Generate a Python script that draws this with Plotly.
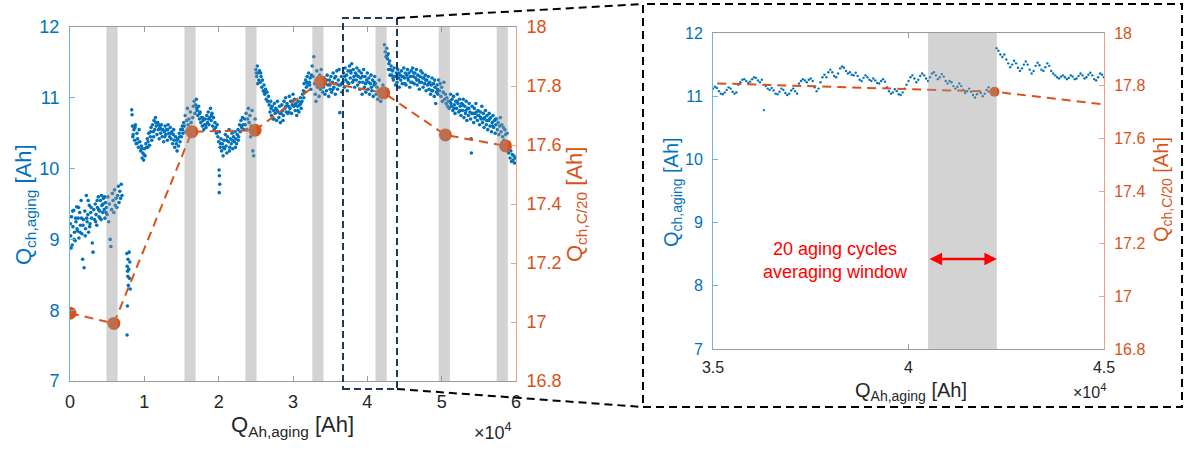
import plotly.graph_objects as go

# ---------------- data (x in units of 1e4 Ah) ----------------
segA_x = [0.01,0.02,0.03,0.04,0.05,0.06,0.07,0.08,0.09,0.10,
          0.11,0.12,0.13,0.14,0.15,0.16,0.17,0.18,0.19,0.20,
          0.21,0.22,0.23,0.24,0.25,0.26,0.27,0.28,0.29,0.30,
          0.31,0.32,0.33,0.34,0.35,0.36,0.37,0.38,0.39,0.40,
          0.41,0.42,0.43,0.44,0.45,0.46,0.47,0.48,0.49,0.50,
          0.51,0.52,0.53,0.54,0.55,0.56,0.57,0.58,0.59,0.60,
          0.61,0.62,0.63,0.64,0.65,0.66,0.67,0.68,0.69,0.70,
          0.005,0.015,0.035,0.055,0.075,0.095,0.115,0.135,0.155,0.175,
          0.205,0.225,0.245,0.265,0.285,0.345,0.365,0.385,0.405,0.425,
          0.445,0.465,0.485]
segA_y = [9.05,9.32,8.92,9.18,9.41,9.10,8.98,9.25,9.46,9.12,
          9.30,9.02,9.38,9.20,9.55,9.08,8.72,9.28,8.60,9.40,
          9.15,9.62,9.25,9.35,9.10,9.48,9.22,9.38,9.30,8.95,
          8.82,9.42,9.28,9.50,9.35,9.20,9.45,9.60,9.32,9.40,
          9.55,9.28,9.48,9.38,9.58,9.42,9.30,9.52,9.45,9.35,
          9.60,9.25,9.50,9.00,8.90,9.42,9.65,9.55,9.38,9.70,
          9.48,9.58,9.45,9.62,9.75,9.52,9.68,9.58,9.78,9.62,
          9.22,8.88,9.40,9.00,9.30,9.15,9.45,9.10,9.30,9.20,
          9.05,9.30,9.55,9.18,9.45,9.25,9.55,9.42,9.30,9.62,
          9.50,9.60,9.38]

segB_x = [0.765,0.770,0.775,0.778,0.780,0.785,0.790,0.795,0.800,0.805,0.810,0.772,0.768]
segB_y = [8.80,8.62,8.55,8.48,8.72,8.35,8.58,8.82,8.45,8.68,8.30,8.06,7.65]

segC_x = [0.83,0.84,0.85,0.86,0.87,0.88,0.89,0.90,0.91,0.92,
          0.93,0.94,0.95,0.96,0.97,0.98,0.99,1.00,1.01,1.02,
          1.03,1.04,1.05,1.06,1.07,1.08,1.09,1.10,1.11,1.12,
          1.13,1.14,1.15,1.16,1.17,1.18,1.19,1.20,1.21,1.22,
          1.23,1.24,1.25,1.26,1.27,1.28,1.29,1.30,1.31,1.32,
          1.33,1.34,1.35,1.36,1.37,1.38,1.39,1.40,1.41,1.42,
          1.43,1.44,1.45,1.46,1.47,1.48,1.49,1.50,1.51,1.52,
          1.53,
          0.835,0.845,0.875,0.905,0.965,0.995,1.045,1.085,1.125,1.155,
          1.195,1.235,1.275,1.315,1.355,1.395,1.435,1.475,1.515,
          1.54,1.55,1.56,1.57,1.58,1.59,1.60,1.61,1.62,1.63,
          1.64,1.65,1.66,1.67,1.68]
segC_y = [10.83,10.60,10.48,10.55,10.40,10.62,10.35,10.50,10.42,10.30,
          10.55,10.38,10.25,10.32,10.15,10.22,10.12,10.28,10.18,10.35,
          10.30,10.42,10.38,10.50,10.33,10.45,10.58,10.40,10.62,10.52,
          10.68,10.55,10.72,10.60,10.48,10.65,10.55,10.42,10.58,10.50,
          10.62,10.45,10.55,10.38,10.52,10.60,10.48,10.55,10.40,10.62,
          10.50,10.45,10.58,10.42,10.52,10.35,10.48,10.40,10.30,10.45,
          10.35,10.25,10.42,10.32,10.50,10.38,10.55,10.45,10.60,10.50,
          10.65,
          10.76,10.45,10.58,10.36,10.28,10.20,10.30,10.52,10.45,10.65,
          10.62,10.55,10.45,10.55,10.50,10.55,10.40,10.45,10.55,
          10.60,10.75,10.52,10.68,10.85,10.62,10.70,10.55,10.80,10.65,
          10.50,10.72,10.88,10.95,10.78]

segD_x = [1.69,1.70,1.71,1.72,1.73,1.74,1.75,1.76,1.77,1.78,
          1.79,1.80,1.81,1.82,1.83,1.84,1.85,1.86,1.87,1.88,
          1.89,1.90,1.91,1.92,1.93,1.94,1.95,1.96,1.97,1.98,
          1.99,2.00,2.01,2.02,2.03,2.04,2.05,2.06,2.07,2.08,
          2.09,2.10,2.11,2.12,2.13,2.14,2.15,2.16,2.17,2.18,
          2.19,2.20,2.21,2.22,2.23,2.24,2.25,2.26,2.27,2.28,
          2.29,2.30,2.31,2.32,2.33,2.34,2.35,
          2.005,2.010,2.015,2.008,
          1.705,1.745,1.785,1.825,1.865,1.905,2.025,2.065,2.105,2.145,
          2.185,2.225,2.265,2.305,
          2.36,2.37,2.38,2.39,2.40,2.41,2.42,2.43,2.44,2.45,
          2.46,2.47,2.48,2.49]
segD_y = [10.90,10.98,10.82,10.75,10.88,10.70,10.80,10.65,10.72,10.60,
          10.68,10.55,10.62,10.70,10.58,10.75,10.65,10.80,10.62,10.72,
          10.85,10.68,10.78,10.60,10.72,10.55,10.65,10.58,10.50,10.62,
          10.45,10.38,10.52,10.30,10.42,10.25,10.35,10.18,10.40,10.28,
          10.48,10.32,10.22,10.45,10.38,10.55,10.30,10.42,10.35,10.50,
          10.28,10.45,10.38,10.52,10.42,10.35,10.48,10.55,10.45,10.62,
          10.52,10.68,10.58,10.72,10.62,10.55,10.70,
          9.98,9.90,9.78,9.66,
          10.85,10.78,10.72,10.62,10.70,10.75,10.35,10.30,10.40,10.25,
          10.40,10.30,10.40,10.60,
          10.62,10.78,10.55,10.70,10.85,10.65,10.75,10.45,10.60,10.82,
          10.25,10.18,10.50,10.70]

segE_x = [2.50,2.51,2.52,2.53,2.54,2.55,2.56,2.57,2.58,2.59,
          2.60,2.61,2.62,2.63,2.64,2.65,2.66,2.67,2.68,2.69,
          2.70,2.71,2.72,2.73,2.74,2.75,2.76,2.77,2.78,2.79,
          2.80,2.81,2.82,2.83,2.84,2.85,2.86,2.87,2.88,2.89,
          2.90,2.91,2.92,2.93,2.94,2.95,2.96,2.97,2.98,2.99,
          3.00,3.01,3.02,3.03,3.04,3.05,3.06,3.07,3.08,3.09,
          3.10,3.11,3.12,3.13,3.14,3.15,3.16,3.17,3.18,3.19,
          3.20,3.21,3.22,3.23,3.24,3.25,
          2.505,2.525,2.565,2.615,2.705,2.745,2.785,2.825,2.865,2.905,
          2.945,2.985,3.025,3.065,3.105,3.145,3.185,3.225,
          3.26,3.27,3.28,3.29,3.30,3.31,3.32,3.33,3.34,3.35,
          3.36,3.37,3.38,3.39,3.40]
segE_y = [11.40,11.30,11.45,11.35,11.25,11.38,11.22,11.30,11.15,11.25,
          11.10,11.18,11.05,11.12,10.98,11.08,10.95,11.02,10.90,10.80,
          10.95,10.75,10.88,10.70,10.82,10.92,10.78,10.85,10.68,10.95,
          10.80,10.72,10.88,10.65,10.78,10.90,10.82,10.75,10.95,10.85,
          11.00,10.80,10.92,10.78,10.88,11.02,10.85,10.95,10.78,10.90,
          11.05,10.88,10.98,10.82,10.92,10.75,10.88,10.95,10.80,10.90,
          11.00,10.85,10.95,11.05,11.10,11.20,11.08,11.25,11.15,11.30,
          11.18,11.35,11.22,11.28,11.12,11.32,
          11.35,11.20,11.35,11.08,10.85,10.70,10.82,10.78,10.68,10.88,
          10.80,10.95,10.90,10.82,10.92,11.00,11.22,11.18,
          11.45,11.30,11.58,11.20,11.05,10.95,11.38,11.15,11.25,11.02,
          11.32,11.12,11.40,11.22,11.08]

segF_x = [3.41,3.42,3.43,3.44,3.45,3.46,3.47,3.48,3.49,3.50,
          3.51,3.52,3.53,3.54,3.55,3.56,3.57,3.58,3.59,3.60,
          3.61,3.62,3.63,3.64,3.65,3.66,3.67,3.68,3.69,3.70,
          3.71,3.72,3.73,3.74,3.75,3.76,3.77,3.78,3.79,3.80,
          3.81,3.82,3.83,3.84,3.85,3.86,3.87,3.88,3.89,3.90,
          3.91,3.92,3.93,3.94,3.95,3.96,3.97,3.98,3.99,4.00,
          4.01,4.02,4.03,4.04,4.05,4.06,4.07,4.08,4.09,4.10,
          3.415,3.455,3.495,3.535,3.575,3.615,3.655,3.695,3.735,3.775,
          3.815,3.855,3.895,3.935,3.975,4.015,4.055,4.095,
          4.11,4.12,4.13,4.14,4.15,4.16,4.17,4.18,4.19,4.20,
          4.21,4.22,4.23,4.24,4.25]
segF_y = [11.15,11.28,11.05,11.20,11.10,11.32,11.18,11.02,11.25,11.12,
          11.30,11.08,11.22,11.35,11.15,11.28,11.05,11.20,11.38,11.12,
          11.25,11.40,10.79,11.18,11.30,11.08,11.22,11.35,11.15,11.42,
          11.25,11.32,11.10,11.38,11.20,11.45,11.28,11.35,11.48,11.22,
          11.40,11.30,11.15,11.35,11.25,11.42,11.18,11.30,11.38,11.12,
          11.28,11.35,11.05,11.22,11.40,11.15,11.30,11.08,11.25,11.35,
          11.12,11.28,11.05,11.20,11.32,11.10,11.25,11.02,11.18,11.30,
          11.22,11.25,11.18,11.12,11.30,11.18,11.20,11.30,11.22,11.38,
          11.25,11.32,11.22,11.30,11.20,11.22,11.15,11.22,
          11.20,11.05,11.15,10.98,11.10,11.25,11.02,10.95,11.12,11.00,
          11.18,11.08,11.75,11.65,11.58]

segG_x = [4.26,4.27,4.28,4.29,4.30,4.31,4.32,4.33,4.34,4.35,
          4.36,4.37,4.38,4.39,4.40,4.41,4.42,4.43,4.44,4.45,
          4.46,4.47,4.48,4.49,4.50,4.51,4.52,4.53,4.54,4.55,
          4.56,4.57,4.58,4.59,4.60,4.61,4.62,4.63,4.64,4.65,
          4.66,4.67,4.68,4.69,4.70,4.71,4.72,4.73,4.74,4.75,
          4.76,4.77,4.78,4.79,4.80,4.81,4.82,4.83,4.84,4.85,
          4.86,4.87,4.88,4.89,4.90,4.91,4.92,4.93,4.94,4.95,
          4.265,4.285,4.305,4.345,4.385,4.425,4.465,4.505,4.545,4.585,
          4.625,4.665,4.705,4.745,4.785,4.825,4.865,4.905,4.945,
          4.96,4.97,4.98,4.99,5.00,5.01,5.02,5.03,5.04,5.05,
          5.06,5.07,5.08,5.09,5.10]
segG_y = [11.70,11.55,11.62,11.48,11.52,11.40,11.45,11.32,11.38,11.25,
          11.42,11.30,11.18,11.35,11.22,11.40,11.28,11.15,11.32,11.25,
          11.38,11.20,11.30,11.42,11.28,11.35,11.18,11.32,11.40,11.25,
          11.35,11.15,11.30,11.38,11.22,11.42,11.30,11.20,11.35,11.28,
          11.40,11.18,11.32,11.25,11.12,11.30,11.38,11.22,11.35,11.15,
          11.28,11.20,11.32,11.10,11.25,11.18,11.30,11.12,11.22,11.05,
          11.18,11.28,11.10,11.20,11.02,11.15,10.92,11.08,11.18,11.05,
          11.60,11.40,11.32,11.28,11.30,11.35,11.30,11.20,11.28,11.22,
          11.35,11.25,11.22,11.28,11.25,11.20,11.10,11.25,11.12,
          11.25,11.10,11.20,11.02,11.15,10.95,11.08,11.22,10.98,11.05,
          10.92,11.00,10.88,10.95,10.85]

segH_x = [5.11,5.12,5.13,5.14,5.15,5.16,5.17,5.18,5.19,5.20,
          5.21,5.22,5.23,5.24,5.25,5.26,5.27,5.28,5.29,5.30,
          5.31,5.32,5.33,5.34,5.35,5.36,5.37,5.38,5.39,5.40,
          5.41,5.42,5.43,5.44,5.45,5.46,5.47,5.48,5.49,5.50,
          5.51,5.52,5.53,5.54,5.55,5.56,5.57,5.58,5.59,5.60,
          5.61,5.62,5.63,5.64,5.65,5.66,5.67,5.68,5.69,5.70,
          5.71,5.72,5.73,
          5.125,5.165,5.205,5.245,5.285,5.325,5.365,5.395,5.405,5.445,
          5.485,5.525,5.565,5.605,5.645,5.685,5.725,
          5.74,5.75,5.76,5.77,5.78,5.79,5.80,5.81,5.82,5.83,
          5.84,5.85,5.86,5.87,5.88,
          5.89,5.90,5.91,5.92,5.93,5.94,5.95,5.96,5.97,5.98,5.99]
segH_y = [10.95,11.05,10.88,10.98,10.82,11.02,10.90,10.78,10.95,10.85,
          11.05,10.92,10.80,10.98,10.88,10.75,10.92,10.82,10.98,10.72,
          10.88,10.78,10.95,10.68,10.85,10.75,10.92,10.80,10.70,10.22,
          10.88,10.78,10.65,10.85,10.72,10.92,10.80,10.68,10.82,10.75,
          10.62,10.80,10.70,10.88,10.65,10.78,10.58,10.72,10.82,10.62,
          10.75,10.55,10.68,10.78,10.60,10.72,10.52,10.65,10.75,10.58,
          10.68,10.50,10.62,
          10.92,10.85,10.95,10.82,10.90,10.82,10.85,10.42,10.78,10.78,
          10.75,10.72,10.70,10.68,10.70,10.60,10.70,
          10.70,10.55,10.65,10.48,10.60,10.72,10.52,10.62,10.45,10.58,
          10.40,10.55,10.48,10.35,10.50,
          10.30,10.22,10.28,10.15,10.25,10.10,10.20,10.12,10.18,10.08,10.15]

# C/20 capacity check-ups (right axis)
c20_x = [0.0, 0.59, 1.64, 2.49, 3.37, 4.22, 5.05, 5.86]
c20_y = [17.03, 16.995, 17.645, 17.65, 17.815, 17.777, 17.634, 17.597]

# detailed view (3.5 - 4.5 x 1e4 Ah)
zoom_x = [3.500,3.505,3.510,3.515,3.520,3.525,3.530,3.535,3.540,3.545,
          3.550,3.555,3.560,3.565,3.570,3.575,3.580,3.585,3.590,3.595,
          3.600,3.605,3.610,3.615,3.620,3.625,3.630,3.635,3.640,3.645,
          3.650,3.655,3.660,3.665,3.670,3.675,3.680,3.685,3.690,3.695,
          3.700,3.705,3.710,3.715,3.720,3.725,3.730,3.735,3.740,3.745,
          3.750,3.755,3.760,3.765,3.770,3.775,3.780,3.785,3.790,3.795,
          3.800,3.805,3.810,3.815,3.820,3.825,3.830,3.835,3.840,3.845,
          3.850,3.855,3.860,3.865,3.870,3.875,3.880,3.885,3.890,3.895,
          3.900,3.905,3.910,3.915,3.920,3.925,3.930,3.935,3.940,3.945,
          3.950,3.955,3.960,3.965,3.970,3.975,3.980,3.985,3.990,3.995,
          4.000,4.005,4.010,4.015,4.020,4.025,4.030,4.035,4.040,4.045,
          4.050,4.055,4.060,4.065,4.070,4.075,4.080,4.085,4.090,4.095,
          4.100,4.105,4.110,4.115,4.120,4.125,4.130,4.135,4.140,4.145,
          4.150,4.155,4.160,4.165,4.170,4.175,4.180,4.185,4.190,4.195,
          4.200,4.205,4.210,4.215,4.220,4.225,4.230,4.235,4.240,4.245,
          4.250,4.255,4.260,4.265,4.270,4.275,4.280,4.285,4.290,4.295,
          4.300,4.305,4.310,4.315,4.320,4.325,4.330,4.335,4.340,4.345,
          4.350,4.355,4.360,4.365,4.370,4.375,4.380,4.385,4.390,4.395,
          4.400,4.405,4.410,4.415,4.420,4.425,4.430,4.435,4.440,4.445,
          4.450,4.455,4.460,4.465,4.470,4.475,4.480,4.485,4.490,4.495,
          4.500]
zoom_y = [11.12,11.15,11.13,11.08,11.04,11.03,11.06,11.10,11.14,11.12,
          11.07,11.04,11.06,11.18,11.22,11.26,11.27,11.24,11.21,11.23,
          11.27,11.30,11.29,11.25,11.22,11.26,10.78,11.16,11.12,11.10,
          11.13,11.09,11.04,11.03,11.07,11.12,11.10,11.05,11.02,11.04,
          11.09,11.12,11.08,11.04,11.20,11.24,11.27,11.25,11.22,11.26,
          11.28,11.24,11.14,11.08,11.12,11.22,11.30,11.34,11.30,11.38,
          11.42,11.38,11.32,11.30,11.36,11.44,11.47,11.45,11.40,11.36,
          11.38,11.34,11.33,11.37,11.32,11.26,11.24,11.29,11.33,11.30,
          11.26,11.24,11.28,11.25,11.21,11.20,11.24,11.27,11.23,11.14,
          11.08,11.04,11.06,11.11,11.08,11.03,11.02,11.06,11.12,11.18,
          11.24,11.30,11.33,11.28,11.22,11.26,11.32,11.36,11.33,11.28,
          11.24,11.30,11.36,11.38,11.33,11.27,11.30,11.35,11.31,11.24,
          11.20,11.24,11.22,11.16,11.12,11.15,11.20,11.16,11.10,11.05,
          11.08,11.12,11.07,11.02,10.98,11.03,11.08,11.05,11.00,11.04,
          11.10,11.14,11.08,11.02,11.06,11.76,11.72,11.66,11.62,11.66,
          11.58,11.52,11.46,11.50,11.56,11.52,11.45,11.40,11.44,11.50,
          11.55,11.50,11.42,11.36,11.40,11.48,11.53,11.49,11.42,11.40,
          11.46,11.52,11.48,11.40,11.36,11.33,11.30,11.28,11.31,11.33,
          11.30,11.27,11.29,11.33,11.31,11.27,11.28,11.32,11.36,11.33,
          11.28,11.30,11.34,11.37,11.33,11.27,11.25,11.30,11.36,11.34,
          11.30]

# averaging windows (gray bands)
window_lo = [0.49, 1.54, 2.36, 3.26, 4.11, 4.96, 5.74]
window_hi = [0.64, 1.69, 2.51, 3.41, 4.26, 5.11, 5.89]
zoom_window = [4.05, 4.226]

left_xticks = [0, 1, 2, 3, 4, 5, 6]
zoom_xticks = [3.5, 4, 4.5]
zoom_xtext = ["3.5", "4", "4.5"]
ych_ticks = [7, 8, 9, 10, 11, 12]
yc20_ticks = [16.8, 17.0, 17.2, 17.4, 17.6, 17.8, 18.0]
yc20_text = ["16.8", "17", "17.2", "17.4", "17.6", "17.8", "18"]

# ---------------- styling ----------------
W, H = 1192, 453
def px(x):
    return x / W
def py(y):
    return 1 - y / H

FONT = "Liberation Sans, Arial, Helvetica, sans-serif"
BLUE = "#0072BD"
ORANGE = "#D95319"
DARK = "#262626"
BLUE_L = "#6fb0e2"
ORANGE_L = "#f0a280"
GRAY_L = "#9a9a9a"

aging_x = segA_x + segB_x + segC_x + segD_x + segE_x + segF_x + segG_x + segH_x
aging_y = segA_y + segB_y + segC_y + segD_y + segE_y + segF_y + segG_y + segH_y

fig = go.Figure()
fig.add_trace(go.Scatter(x=aging_x, y=aging_y, mode="markers", xaxis="x", yaxis="y",
                         marker=dict(color=BLUE, size=3.6, line=dict(width=0)),
                         showlegend=False, hoverinfo="skip"))
fig.add_trace(go.Scatter(x=c20_x, y=c20_y, mode="lines+markers", xaxis="x", yaxis="y2",
                         line=dict(color=ORANGE, width=2, dash="9px,6px"),
                         marker=dict(color=ORANGE, size=13, line=dict(width=0)),
                         showlegend=False, hoverinfo="skip"))
fig.add_trace(go.Scatter(x=zoom_x, y=zoom_y, mode="markers", xaxis="x3", yaxis="y3",
                         marker=dict(color=BLUE, size=2.4, line=dict(width=0)),
                         showlegend=False, hoverinfo="skip"))
fig.add_trace(go.Scatter(x=c20_x, y=c20_y, mode="lines+markers", xaxis="x3", yaxis="y4",
                         line=dict(color=ORANGE, width=2, dash="9px,6px"),
                         marker=dict(color=ORANGE, size=10, line=dict(width=0)),
                         showlegend=False, hoverinfo="skip"))

def xax(dom, rng, tv, tt, anchor, size):
    return dict(domain=dom, range=rng, tickvals=tv, ticktext=tt, anchor=anchor,
                ticks="inside", ticklen=5, tickcolor=GRAY_L, showline=True,
                linecolor=GRAY_L, linewidth=1, mirror="ticks", showgrid=False,
                zeroline=False, tickfont=dict(family=FONT, size=size, color=DARK),
                ticklabelstandoff=4, automargin=False)

def yax(dom, rng, tv, tt, anchor, size, color, lcolor, side, overlay=None):
    d = dict(range=rng, tickvals=tv, ticktext=tt, anchor=anchor, side=side,
             ticks="inside", ticklen=5, tickcolor=lcolor, showline=True,
             linecolor=lcolor, linewidth=1, showgrid=False, zeroline=False,
             tickfont=dict(family=FONT, size=size, color=color), ticklabelstandoff=6,
             automargin=False)
    if overlay:
        d["overlaying"] = overlay
    else:
        d["domain"] = dom
    return d

L_dom_x = [px(70), px(516)]
L_dom_y = [py(381), py(27)]
R_dom_x = [px(713), px(1104)]
R_dom_y = [py(349), py(33)]

shapes = []
band_style = dict(type="rect", layer="above", fillcolor="rgba(150,150,150,0.42)", line=dict(width=0))
for lo, hi in zip(window_lo, window_hi):
    shapes.append(dict(band_style, xref="x", yref="y domain", x0=lo, x1=hi, y0=0, y1=1))
shapes.append(dict(band_style, xref="x3", yref="y3 domain", x0=zoom_window[0], x1=zoom_window[1], y0=0, y1=1))

NAVY = "#22385c"
# zoom-region box on the left plot
shapes.append(dict(type="rect", layer="above", xref="paper", yref="paper",
                   x0=px(343), x1=px(397), y0=py(389), y1=py(18),
                   line=dict(color=NAVY, width=2, dash="7px,4px")))
# connectors
shapes.append(dict(type="line", layer="above", xref="paper", yref="paper",
                   x0=px(397), y0=py(18), x1=px(643), y1=py(4),
                   line=dict(color="black", width=2, dash="8px,5px")))
shapes.append(dict(type="line", layer="above", xref="paper", yref="paper",
                   x0=px(397), y0=py(389), x1=px(643), y1=py(407),
                   line=dict(color="black", width=2, dash="8px,5px")))
# inset frame
shapes.append(dict(type="rect", layer="above", xref="paper", yref="paper",
                   x0=px(643), x1=px(1182), y0=py(407), y1=py(4),
                   line=dict(color="black", width=2, dash="8px,5px")))

def ann(text, x, y, size, color, angle=0):
    return dict(text=text, x=px(x), y=py(y), xref="paper", yref="paper",
                showarrow=False, textangle=angle, xanchor="center", yanchor="middle",
                font=dict(family=FONT, size=size, color=color))

annotations = [
    ann("Q<sub>ch,aging</sub> [Ah]", 25, 205, 22, BLUE, -90),
    ann("Q<sub>ch,C/20</sub> [Ah]", 576, 205, 22, ORANGE, -90),
    ann("Q<sub>Ah,aging</sub> [Ah]", 292, 426, 22, DARK),
    ann("×10<sup>4</sup>", 493, 431, 18, DARK),
    ann("Q<sub>ch,aging</sub> [Ah]", 673, 192, 20, BLUE, -90),
    ann("Q<sub>ch,C/20</sub> [Ah]", 1163, 190, 20, ORANGE, -90),
    ann("Q<sub>Ah,aging</sub> [Ah]", 911, 391, 20, DARK),
    ann("×10<sup>4</sup>", 1089, 391, 16, DARK),
    ann("20 aging cycles<br>averaging window", 835, 260, 18, "#FF0000"),
    dict(x=zoom_window[1], y=8.424, ax=zoom_window[0], ay=8.424, xref="x3", yref="y3",
         axref="x3", ayref="y3", text="", showarrow=True, arrowhead=2, startarrowhead=2,
         arrowside="end+start", arrowsize=1, startarrowsize=1, arrowwidth=2.5,
         arrowcolor="#FF0000"),
]

fig.update_layout(
    template="none",
    width=W, height=H, autosize=False,
    margin=dict(l=0, r=0, t=0, b=0, pad=0),
    paper_bgcolor="white", plot_bgcolor="white",
    font=dict(family=FONT, color=DARK, size=16),
    showlegend=False,
    xaxis=xax(L_dom_x, [0, 6], left_xticks, [str(v) for v in left_xticks], "y", 18),
    yaxis=yax(L_dom_y, [7, 12], ych_ticks, [str(v) for v in ych_ticks], "x", 18, BLUE, BLUE_L, "left"),
    yaxis2=yax(L_dom_y, [16.8, 18], yc20_ticks, yc20_text, "x", 18, ORANGE, ORANGE_L, "right", "y"),
    xaxis3=xax(R_dom_x, [3.5, 4.5], zoom_xticks, zoom_xtext, "y3", 16),
    yaxis3=yax(R_dom_y, [7, 12], ych_ticks, [str(v) for v in ych_ticks], "x3", 16, BLUE, BLUE_L, "left"),
    yaxis4=yax(R_dom_y, [16.8, 18], yc20_ticks, yc20_text, "x3", 16, ORANGE, ORANGE_L, "right", "y3"),
    shapes=shapes,
    annotations=annotations,
)

fig.write_html("out.html", config={"displayModeBar": False, "staticPlot": True},
               post_script="document.body.style.margin='0';document.body.style.overflow='hidden';")
